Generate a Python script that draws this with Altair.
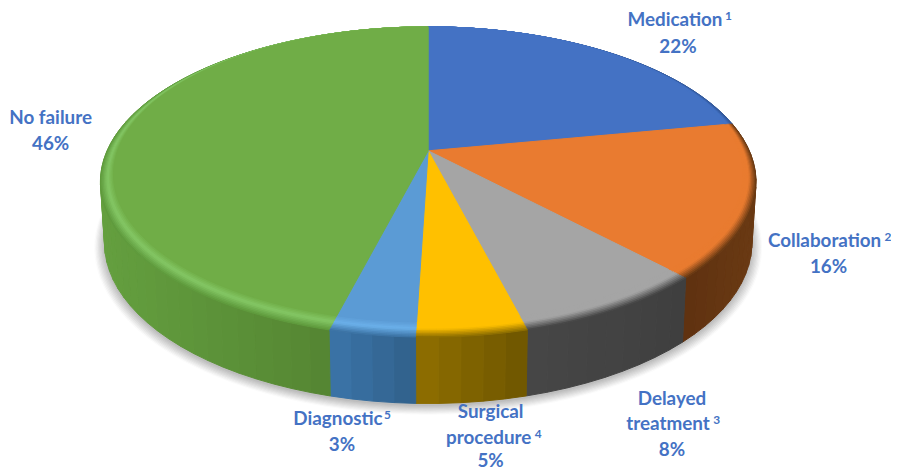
import math
import altair as alt
import pandas as pd

categories = ["Medication", "Collaboration", "Delayed treatment", "Surgical procedure", "Diagnostic", "No failure"]
shares = [22, 16, 8, 4.5, 3.5, 46]
top_colors = ["#4472c4", "#e97b30", "#a5a5a5", "#ffc000", "#5b9bd5", "#70ad47"]
rim_highlights = ["#4472c4", "#e97b30", "#a5a5a5", "#ffc000", "#6bb0ea", "#84c765"]
rim_edges = ["#2f5597", "#6a3a13", "#484848", "#8f6f00", "#3d74a6", "#5f9b3d"]
wall_left = ["#2f5597", "#5f3110", "#474747", "#8f6f00", "#3b75a9", "#649f3f"]
wall_right = ["#2f5597", "#6a3a13", "#3f3f3f", "#6e5500", "#31608a", "#4e7a2d"]

label_lines = ["Medication", "22%", "Collaboration", "16%", "Delayed", "treatment", "8%",
               "Surgical", "procedure", "5%", "Diagnostic", "3%", "No failure", "46%"]
label_x = [681, 684, 832, 836, 678, 674, 678, 495, 493, 495, 341, 345, 51, 51]
label_y = [18, 45, 241, 267, 401, 426, 452, 414, 440, 463, 421, 447, 117, 143]
note_marks = ["1", "2", "3", "4", "5"]
note_x = [735, 896, 723, 543, 391]
note_y = [14, 237, 422, 436, 417]

TOP = dict(cx=432, cy=150, A=324, B=150.2, k=0.201)
BOT = dict(cx=432, cy=210, A=320, B=155.8, k=0.201)
RIM_W = 0.065


def proj(theta_deg, rho, g):
    t = math.radians(theta_deg)
    u, v = rho * math.sin(t), -rho * math.cos(t)
    d = 1 - g["k"] * v
    return g["cx"] + g["A"] * u / d, g["cy"] + g["B"] * v / d


def lerp_hex(a, b, f):
    ca = [int(a[i:i + 2], 16) for i in (1, 3, 5)]
    cb = [int(b[i:i + 2], 16) for i in (1, 3, 5)]
    return "#" + "".join(f"{round(x + (y - x) * f):02x}" for x, y in zip(ca, cb))


rows = []
pid = 0


def add_poly(pts, color):
    global pid
    pid += 1
    for i, (x, y) in enumerate(pts):
        rows.append({"x": round(x, 2), "y": round(y, 2), "p": pid, "o": i, "c": color})


# soft shadow under the disc
steps = 9
for s in range(steps):
    f = s / (steps - 1)
    g = dict(BOT)
    g["A"] = BOT["A"] * (1.03 - 0.03 * f)
    g["B"] = BOT["B"] * (1.035 - 0.035 * f)
    g["cy"] = BOT["cy"] + 2 + 2 * (1 - f)
    add_poly([proj(a, 1, g) for a in range(0, 361, 3)], lerp_hex("#fbfbfb", "#bdbdbd", f))

edges = [0]
for v in shares:
    edges.append(edges[-1] + v * 3.6)

# side wall
for i in range(len(shares)):
    a0, a1 = edges[i], edges[i + 1]
    n = max(2, int((a1 - a0) / 3))
    xs = [proj(a0 + (a1 - a0) * j / n, 1, BOT)[0] for j in range(n + 1)]
    xmin, xmax = min(xs), max(xs)
    for j in range(n):
        b0 = a0 + (a1 - a0) * j / n
        b1 = a0 + (a1 - a0) * (j + 1) / n
        f = ((xs[j] + xs[j + 1]) / 2 - xmin) / max(xmax - xmin, 1)
        add_poly([proj(b0, 1, TOP), proj(b1, 1, TOP), proj(b1, 1, BOT), proj(b0, 1, BOT), proj(b0, 1, TOP)],
                 lerp_hex(wall_left[i], wall_right[i], f))

# top face with bevelled rim, drawn from outer band inwards
bands = 10
for b in range(bands + 1):
    t = b / bands
    for i in range(len(shares)):
        a0, a1 = edges[i], edges[i + 1]
        n = max(2, int(a1 - a0))
        pts = [(TOP["cx"], TOP["cy"])]
        for j in range(n + 1):
            a = a0 + (a1 - a0) * j / n
            rho = 1 - t * RIM_W * (0.5 - 0.5 * math.cos(math.radians(a)))
            pts.append(proj(a, rho, TOP))
        pts.append((TOP["cx"], TOP["cy"]))
        if t < 0.55:
            col = lerp_hex(rim_edges[i], rim_highlights[i], t / 0.55)
        else:
            col = lerp_hex(rim_highlights[i], top_colors[i], (t - 0.55) / 0.45)
        add_poly(pts, col)

df = pd.DataFrame(rows)
xs_scale = alt.Scale(domain=[8, 899], range=[0, 891], nice=False, zero=False)
ys_scale = alt.Scale(domain=[8, 469], range=[0, 461], nice=False, zero=False)

shapes = alt.Chart(df).mark_line(strokeWidth=1, interpolate="linear").encode(
    x=alt.X("x:Q", scale=xs_scale, axis=None),
    y=alt.Y("y:Q", scale=ys_scale, axis=None),
    detail="p:N",
    order="o:Q",
    stroke=alt.Stroke("c:N", scale=None, legend=None),
    fill=alt.Fill("c:N", scale=None, legend=None),
)

labels = alt.Chart(pd.DataFrame({"x": label_x, "y": label_y, "t": label_lines})).mark_text(
    font="Lato", fontWeight="bold", fontSize=19, color="#4472c4", align="center", baseline="middle"
).encode(
    x=alt.X("x:Q", scale=xs_scale, axis=None),
    y=alt.Y("y:Q", scale=ys_scale, axis=None),
    text="t:N",
)

notes = alt.Chart(pd.DataFrame({"x": note_x, "y": note_y, "t": note_marks})).mark_text(
    font="Lato", fontWeight="bold", fontSize=12, color="#4472c4", align="center", baseline="middle"
).encode(
    x=alt.X("x:Q", scale=xs_scale, axis=None),
    y=alt.Y("y:Q", scale=ys_scale, axis=None),
    text="t:N",
)

chart = (shapes + labels + notes).properties(width=891, height=461, padding=0, autosize=alt.AutoSizeParams(type="none")).configure_view(stroke=None)
chart.save("out.html", embed_options={"renderer": "svg", "actions": False})
